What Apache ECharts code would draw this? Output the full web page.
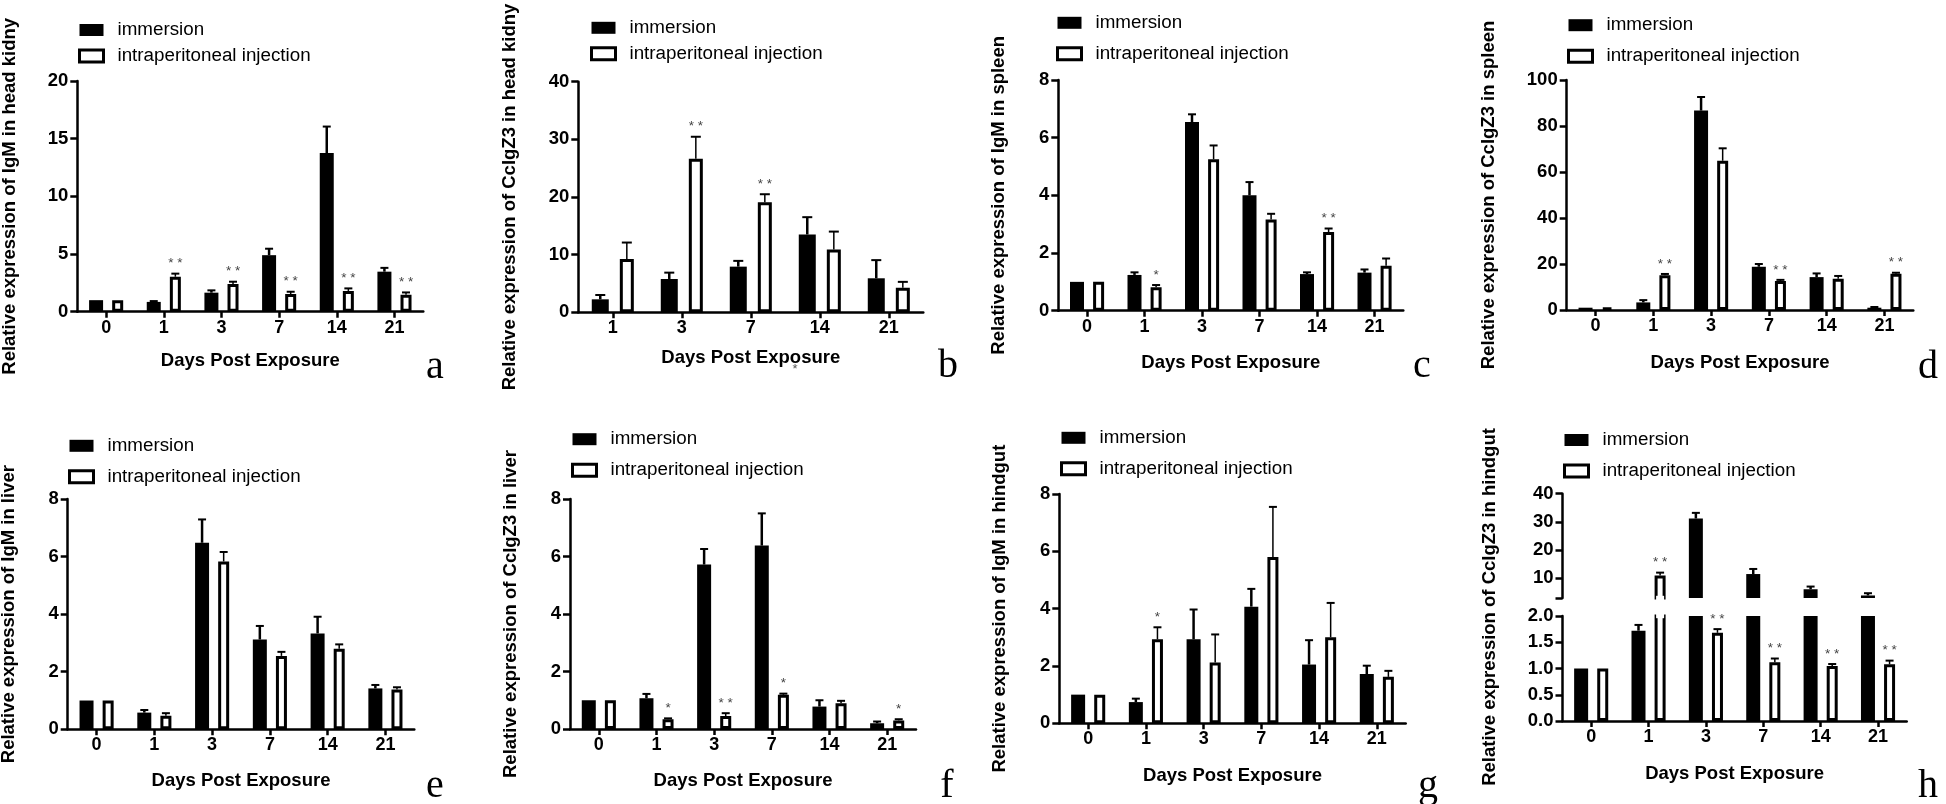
<!DOCTYPE html>
<html><head><meta charset="utf-8">
<script src="https://cdn.jsdelivr.net/npm/echarts@6/dist/echarts.min.js"></script>
<style>html,body{margin:0;padding:0;background:#fff}#c{width:1946px;height:804px}</style>
</head><body><div id="c"></div>
<script>
// ---------- DATA ----------
const days6 = ['0', '1', '3', '7', '14', '21'];
const days5 = ['1', '3', '7', '14', '21'];
const seriesNames = ['immersion', 'intraperitoneal injection'];
const xTitle = 'Days Post Exposure';

// a: IgM head kidney
const aImm = [1.0, 0.85, 1.65, 4.9, 13.75, 3.47];
const aImmSd = [0, 0.07, 0.2, 0.56, 2.3, 0.33];
const aIp = [1.0, 3.03, 2.4, 1.53, 1.8, 1.47];
const aIpSd = [0, 0.27, 0.2, 0.2, 0.22, 0.2];
const aStars = ['', '**', '**', '**', '**', '**'];
const aTicks = [0, 5, 10, 15, 20];

// b: CcIgZ3 head kidney
const bImm = [2.25, 5.78, 7.92, 13.5, 5.9];
const bImmSd = [0.75, 1.1, 1.0, 3.0, 3.15];
const bIp = [9.25, 26.65, 19.08, 10.9, 4.28];
const bIpSd = [2.85, 3.8, 1.4, 3.1, 1.0];
const bStars = ['', '**', '**', '', ''];
const bTicks = [0, 10, 20, 30, 40];

// c: IgM spleen
const cImm = [1.0, 1.24, 6.54, 4.0, 1.27, 1.32];
const cImmSd = [0, 0.09, 0.27, 0.46, 0.06, 0.11];
const cIp = [1.0, 0.81, 5.25, 3.16, 2.73, 1.56];
const cIpSd = [0, 0.08, 0.48, 0.2, 0.12, 0.25];
const cStars = ['', '*', '', '', '**', ''];
const cTicks = [0, 2, 4, 6, 8];

// d: CcIgZ3 spleen
const dImm = [1.0, 3.3, 86.7, 18.8, 14.3, 1.0];
const dImmSd = [0, 1.0, 5.9, 1.2, 1.6, 0.3];
const dIp = [1.0, 15.07, 64.9, 12.6, 13.6, 15.8];
const dIpSd = [0, 0.6, 5.4, 0.5, 1.2, 0.4];
const dStars = ['', '**', '', '**', '', '**'];
const dTicks = [0, 20, 40, 60, 80, 100];

// e: IgM liver
const eImm = [1.0, 0.58, 6.48, 3.12, 3.33, 1.42];
const eImmSd = [0, 0.09, 0.81, 0.47, 0.58, 0.12];
const eIp = [1.0, 0.47, 5.83, 2.55, 2.8, 1.38];
const eIpSd = [0, 0.09, 0.33, 0.14, 0.15, 0.08];
const eStars = ['', '', '', '', '', ''];
const eTicks = [0, 2, 4, 6, 8];

// f: CcIgZ3 liver
const fImm = [1.0, 1.07, 5.72, 6.38, 0.78, 0.2];
const fImmSd = [0, 0.15, 0.54, 1.12, 0.22, 0.06];
const fIp = [1.0, 0.34, 0.45, 1.19, 0.9, 0.3];
const fIpSd = [0, 0.03, 0.1, 0.04, 0.08, 0.04];
const fStars = ['', '*', '**', '*', '', '*'];
const fTicks = [0, 2, 4, 6, 8];

// g: IgM hindgut
const gImm = [1.0, 0.74, 2.93, 4.07, 2.05, 1.72];
const gImmSd = [0, 0.12, 1.04, 0.62, 0.85, 0.29];
const gIp = [1.0, 2.93, 2.12, 5.8, 3.0, 1.62];
const gIpSd = [0, 0.42, 0.98, 1.75, 1.2, 0.21];
const gStars = ['', '*', '', '', '', ''];
const gTicks = [0, 2, 4, 6, 8];

// h: CcIgZ3 hindgut (broken axis)
const hImm = [1.0, 1.72, 31.2, 11.5, 6.1, 3.9];
const hImmSd = [0, 0.11, 2.0, 1.8, 0.96, 0.8];
const hIp = [1.0, 10.94, 1.68, 1.12, 1.05, 1.08];
const hIpSd = [0, 1.06, 0.07, 0.07, 0.035, 0.07];
const hStars = ['', '**', '**', '**', '**', '**'];
const hTicksLow = [0, 0.5, 1.0, 1.5, 2.0];
const hTicksHigh = [10, 20, 30, 40];
const hHighMin = 3;

const yTitles = {
  a: 'Relative expression of IgM in head kidny',
  b: 'Relative expression of CcIgZ3 in head kidny',
  c: 'Relative expression of IgM in spleen',
  d: 'Relative expression of CcIgZ3 in spleen',
  e: 'Relative expression of IgM in liver',
  f: 'Relative expression of CcIgZ3 in liver',
  g: 'Relative expression of IgM in hindgut',
  h: 'Relative expression of CcIgZ3 in hindgut'
};

// ---------- LAYOUT ----------
const FONT = '"Liberation Sans", Arial, Helvetica, sans-serif';
const SERIF = '"Liberation Serif", "Times New Roman", serif';
const GAP_PCT = 65;

const option = {
  animation: false, backgroundColor: '#fff',
  grid: [], xAxis: [], yAxis: [], series: [], legend: [], graphic: []
};

function addGrid(box, cats, ticks, xShow, yName, yGap, xGap) {
  const gi = option.grid.length;
  option.grid.push({
    left: box.left, top: box.top, width: box.right - box.left, height: box.bottom - box.top,
    containLabel: false, outerBoundsMode: 'none'
  });
  option.xAxis.push({
    type: 'category', gridIndex: gi, data: cats, show: xShow, boundaryGap: true,
    axisLine: { show: true, onZero: false, lineStyle: { color: '#000', width: 2.5 } },
    axisTick: { show: true, alignWithLabel: true, length: 6, lineStyle: { color: '#000', width: 2.5 } },
    axisLabel: { color: '#000', fontFamily: FONT, fontWeight: 'bold', fontSize: 18, margin: 7 },
    splitLine: { show: false },
    name: xShow ? xTitle : '', nameLocation: 'middle', nameGap: xGap, nameMoveOverlap: false,
    nameTextStyle: { color: '#000', fontFamily: FONT, fontWeight: 'bold', fontSize: 18.5 }
  });
  const y = {
    type: 'value', gridIndex: gi,
    min: ticks[0], max: ticks[ticks.length - 1], interval: ticks[1] - ticks[0],
    axisLine: { show: true, onZero: false, lineStyle: { color: '#000', width: 2.5 } },
    axisTick: { show: true, length: 7, lineStyle: { color: '#000', width: 2.5 } },
    axisLabel: { color: '#000', fontFamily: FONT, fontWeight: 'bold', fontSize: 18.5, margin: 9 },
    splitLine: { show: false },
    name: yName || '', nameLocation: 'middle', nameGap: yGap, nameMoveOverlap: false,
    nameTextStyle: { color: '#000', fontFamily: FONT, fontWeight: 'bold', fontSize: 18.5 }
  };
  option.yAxis.push(y);
  return gi;
}

function barOffsets(w) {
  const p = GAP_PCT / 100;
  const sum = w * (1 + p) + (w - 3);
  return [-sum / 2 + w / 2, -sum / 2 + w * (1 + p) + (w - 3) / 2];
}

function addBars(gi, imm, ip, w) {
  option.series.push({
    type: 'bar', name: seriesNames[0], xAxisIndex: gi, yAxisIndex: gi, data: imm,
    barWidth: w, barGap: GAP_PCT + '%', itemStyle: { color: '#000' }, clip: true, silent: true
  });
  option.series.push({
    type: 'bar', name: seriesNames[1], xAxisIndex: gi, yAxisIndex: gi, data: ip,
    barWidth: w - 3, barGap: GAP_PCT + '%',
    itemStyle: { color: '#fff', borderColor: '#000', borderWidth: 3 }, clip: true, silent: true
  });
}

// error bars (+SD whisker), significance stars, and (for the broken axis) an
// open end on outlined bars that run past the visible range
function addErr(gi, means, sds, stars, offset, lw, capW, lo, hi, openW) {
  option.series.push({
    type: 'custom', xAxisIndex: gi, yAxisIndex: gi, silent: true, z: 5,
    data: means.map((m, i) => [i, m, sds[i]]),
    renderItem: function (params, api) {
      const i = api.value(0), m = api.value(1), sd = api.value(2);
      const top = m + sd;
      const ch = [];
      const pb = api.coord([i, m]);
      const xb = pb[0] + offset;
      if (openW) {
        if (m > hi) {
          const yh = api.coord([i, hi])[1];
          ch.push({ type: 'rect', shape: { x: xb - openW / 2, y: yh - 2.2, width: openW, height: 4.4 }, style: { fill: '#fff' } });
        }
        if (m > lo && isFinite(lo) && lo > 0) {
          const yl = api.coord([i, lo])[1];
          ch.push({ type: 'rect', shape: { x: xb - openW / 2, y: yl - 2.2, width: openW, height: 4.4 }, style: { fill: '#fff' } });
        }
      }
      if (m >= lo && top <= hi) {
        const p1 = api.coord([i, top]);
        if (sd > 0) {
          ch.push({ type: 'line', shape: { x1: xb, y1: pb[1], x2: xb, y2: p1[1] }, style: { stroke: '#000', lineWidth: lw } });
          ch.push({ type: 'line', shape: { x1: xb - capW / 2, y1: p1[1], x2: xb + capW / 2, y2: p1[1] }, style: { stroke: '#000', lineWidth: 2 } });
        }
        const st = stars ? stars[params.dataIndex] : '';
        if (st) {
          ch.push({ type: 'text', x: xb, y: p1[1] - 10,
            style: { text: st.split('').join(' '), fill: '#444', font: '13.5px ' + FONT, align: 'center', verticalAlign: 'middle' } });
        }
      }
      return { type: 'group', children: ch };
    }
  });
}

function addLegend(left, top, gap) {
  option.legend.push({
    left: left, top: top, orient: 'vertical', padding: 0, itemWidth: 24, itemHeight: 12, itemGap: gap,
    icon: 'rect', selectedMode: false,
    data: [
      { name: seriesNames[0], itemStyle: { color: '#000', borderWidth: 0 } },
      { name: seriesNames[1], itemStyle: { color: '#fff', borderColor: '#000', borderWidth: 3 } }
    ],
    textStyle: { color: '#000', fontFamily: FONT, fontSize: 18.8, lineHeight: 20, padding: [0, 0, 0, 9] }
  });
}

function addLetter(ch, x, y) {
  option.graphic.push({ type: 'text', x: x, y: y, silent: true,
    style: { text: ch, font: '40px ' + SERIF, fill: '#000', align: 'center', verticalAlign: 'middle' } });
}

function panel(P) {
  const gi = addGrid(P.box, P.cats, P.ticks, true, P.yName, P.yGap, P.xGap);
  addBars(gi, P.imm, P.ip, P.w);
  const off = barOffsets(P.w);
  const cap = Math.round(P.w * 0.6);
  addErr(gi, P.imm, P.immSd, null, off[0], 2.5, cap, -Infinity, Infinity, 0);
  addErr(gi, P.ip, P.ipSd, P.stars, off[1], 1.5, cap, -Infinity, Infinity, 0);
  addLegend(P.legend[0], P.legend[1], P.legend[2]);
  addLetter(P.letter[0], P.letter[1], P.letter[2]);
}

panel({ box: { left: 77.3, top: 81, right: 423.3, bottom: 311.7 }, cats: days6, ticks: aTicks,
  imm: aImm, immSd: aImmSd, ip: aIp, ipSd: aIpSd, stars: aStars, w: 14,
  yName: yTitles.a, yGap: 58, xGap: 40, legend: [78, 20, 6], letter: ['a', 435, 367] });
panel({ box: { left: 578.3, top: 81.7, right: 923.3, bottom: 312.3 }, cats: days5, ticks: bTicks,
  imm: bImm, immSd: bImmSd, ip: bIp, ipSd: bIpSd, stars: bStars, w: 17,
  yName: yTitles.b, yGap: 59, xGap: 36, legend: [590, 17.8, 6], letter: ['b', 948, 366] });
panel({ box: { left: 1058.3, top: 80, right: 1403.3, bottom: 310.7 }, cats: days6, ticks: cTicks,
  imm: cImm, immSd: cImmSd, ip: cIp, ipSd: cIpSd, stars: cStars, w: 14,
  yName: yTitles.c, yGap: 50, xGap: 42.5, legend: [1056, 12.8, 11], letter: ['c', 1422, 366] });
panel({ box: { left: 1566.7, top: 80, right: 1913.3, bottom: 310 }, cats: days6, ticks: dTicks,
  imm: dImm, immSd: dImmSd, ip: dIp, ipSd: dIpSd, stars: dStars, w: 14,
  yName: yTitles.d, yGap: 68, xGap: 43, legend: [1567, 15.2, 11], letter: ['d', 1928, 367] });
panel({ box: { left: 67.7, top: 499, right: 414.3, bottom: 729.3 }, cats: days6, ticks: eTicks,
  imm: eImm, immSd: eImmSd, ip: eIp, ipSd: eIpSd, stars: eStars, w: 14,
  yName: yTitles.e, yGap: 49, xGap: 42, legend: [68, 435.8, 11], letter: ['e', 435, 786] });
panel({ box: { left: 570, top: 499, right: 916, bottom: 729 }, cats: days6, ticks: fTicks,
  imm: fImm, immSd: fImmSd, ip: fIp, ipSd: fIpSd, stars: fStars, w: 14,
  yName: yTitles.f, yGap: 50, xGap: 42.5, legend: [571, 429.2, 11], letter: ['f', 947, 786] });
panel({ box: { left: 1059.3, top: 494, right: 1405.7, bottom: 723.3 }, cats: days6, ticks: gTicks,
  imm: gImm, immSd: gImmSd, ip: gIp, ipSd: gIpSd, stars: gStars, w: 14,
  yName: yTitles.g, yGap: 50, xGap: 43, legend: [1060, 427.8, 11], letter: ['g', 1428, 786] });

// panel h: two stacked grids (broken y axis)
(function () {
  const w = 14;
  const off = barOffsets(w);
  const cap = Math.round(w * 0.6);
  const inner = w - 3 - 3;
  const low = addGrid({ left: 1562.5, top: 616, right: 1906.7, bottom: 721 }, days6, hTicksLow, true, '', 0, 43);
  option.yAxis[low].axisLabel.formatter = v => v.toFixed(1);
  addBars(low, hImm, hIp, w);
  addErr(low, hImm, hImmSd, null, off[0], 2.5, cap, 0, 2, 0);
  addErr(low, hIp, hIpSd, hStars, off[1], 1.5, cap, 0, 2, inner);

  const high = addGrid({ left: 1562.5, top: 493.7, right: 1906.7, bottom: 598 }, days6,
    [hHighMin, hTicksHigh[hTicksHigh.length - 1]], false, '', 0, 0);
  const ya = option.yAxis[high];
  delete ya.interval;
  ya.min = hHighMin; ya.max = hTicksHigh[hTicksHigh.length - 1];
  ya.axisLabel.customValues = hTicksHigh;
  ya.axisTick.customValues = [hHighMin].concat(hTicksHigh);
  option.xAxis[high].show = false;
  addBars(high, hImm, hIp, w);
  addErr(high, hImm, hImmSd, null, off[0], 2.5, cap, hHighMin, 40, 0);
  addErr(high, hIp, hIpSd, hStars, off[1], 1.5, cap, hHighMin, 40, inner);

  addLegend(1563, 430, 11);
  addLetter('h', 1928, 786);
  option.graphic.push({ type: 'text', x: 1490, y: 607, rotation: Math.PI / 2, silent: true,
    style: { text: yTitles.h, font: 'bold 18.5px ' + FONT, fill: '#000', align: 'center', verticalAlign: 'middle' } });
})();

// stray asterisk printed under panel b's axis title
option.graphic.push({ type: 'text', x: 795, y: 369, silent: true,
  style: { text: '*', font: '13px ' + FONT, fill: '#555', align: 'center', verticalAlign: 'middle' } });

const chart = echarts.init(document.getElementById('c'), null, { renderer: 'canvas', width: 1946, height: 804 });
chart.setOption(option);
</script>
</body></html>
